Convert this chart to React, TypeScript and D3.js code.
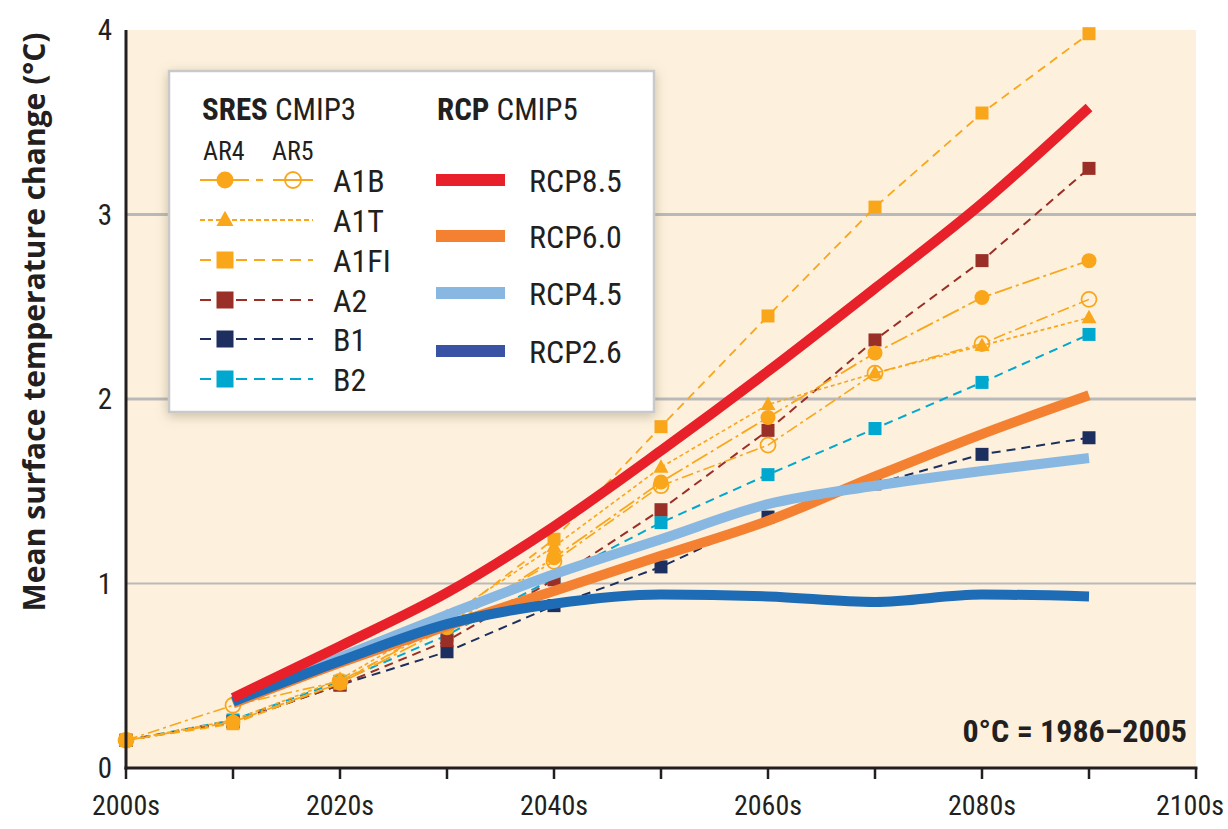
import React from "react";
import * as d3 from "d3";

const sresDecades = [2000, 2010, 2020, 2030, 2040, 2050, 2060, 2070, 2080, 2090];
const rcpDecades = [2010, 2020, 2030, 2040, 2050, 2060, 2070, 2080, 2090];

const a1bAR4 = [0.15, 0.25, 0.46, 0.76, 1.14, 1.55, 1.9, 2.25, 2.55, 2.75];
const a1bAR5 = [0.15, 0.34, 0.47, 0.78, 1.12, 1.53, 1.75, 2.14, 2.3, 2.54];
const a1t = [0.15, 0.26, 0.48, 0.82, 1.2, 1.63, 1.97, 2.14, 2.29, 2.44];
const a1fi = [0.15, 0.24, 0.46, 0.8, 1.24, 1.85, 2.45, 3.04, 3.55, 3.98];
const a2 = [0.15, 0.25, 0.45, 0.69, 1.02, 1.4, 1.83, 2.32, 2.75, 3.25];
const b1 = [0.15, 0.25, 0.45, 0.63, 0.88, 1.09, 1.36, 1.54, 1.7, 1.79];
const b2 = [0.15, 0.26, 0.47, 0.72, 1.03, 1.33, 1.59, 1.84, 2.09, 2.35];

const rcp85 = [0.38, 0.66, 0.95, 1.31, 1.72, 2.15, 2.6, 3.06, 3.58];
const rcp60 = [0.35, 0.57, 0.77, 0.96, 1.15, 1.34, 1.58, 1.81, 2.02];
const rcp45 = [0.36, 0.6, 0.83, 1.05, 1.24, 1.43, 1.53, 1.61, 1.68];
const rcp26 = [0.36, 0.58, 0.78, 0.89, 0.94, 0.93, 0.9, 0.94, 0.93];

const yTicks = [0, 1, 2, 3, 4];
const xTickYears = [2000, 2010, 2020, 2030, 2040, 2050, 2060, 2070, 2080, 2090, 2100];
const xLabelYears = [2000, 2020, 2040, 2060, 2080, 2100];
const xLabels = ["2000s", "2020s", "2040s", "2060s", "2080s", "2100s"];

const sresLabels = ["A1B", "A1T", "A1FI", "A2", "B1", "B2"];
const rcpLabels = ["RCP8.5", "RCP6.0", "RCP4.5", "RCP2.6"];

const YELLOW = "#f9a61a";
const A2C = "#9a2f27";
const B1C = "#1c2f5e";
const B2C = "#00a8cf";
const RED = "#e8202a";
const ORANGE = "#f48132";
const LBLUE = "#88b8e2";
const DBLUE = "#1e6bb6";
const DBLUE_LEG = "#3a52a4";

const FONT = "'Liberation Sans Narrow', 'Arial Narrow', 'Roboto Condensed', sans-serif";

type Marker = "circle" | "open" | "tri" | "square";

function MarkerShape({ kind, x, y, color, size }: { kind: Marker; x: number; y: number; color: string; size: number }) {
  if (kind === "circle") return <circle cx={x} cy={y} r={size / 2} fill={color} />;
  if (kind === "open") return <circle cx={x} cy={y} r={size / 2} fill="none" stroke={color} strokeWidth={1.8} />;
  if (kind === "tri") {
    const h = size * 0.9;
    return <path d={`M${x},${y - h * 0.6} L${x + size / 2},${y + h * 0.4} L${x - size / 2},${y + h * 0.4} Z`} fill={color} />;
  }
  return <rect x={x - size / 2} y={y - size / 2} width={size} height={size} fill={color} />;
}

export default function App() {
  const W = 1228;
  const H = 829;
  const x = d3.scaleLinear().domain([2000, 2100]).range([126, 1196]);
  const y = d3.scaleLinear().domain([0, 4]).range([768, 30]);

  const straight = d3
    .line<[number, number]>()
    .x((d) => x(d[0]))
    .y((d) => y(d[1]));
  const smooth = d3
    .line<[number, number]>()
    .x((d) => x(d[0]))
    .y((d) => y(d[1]))
    .curve(d3.curveMonotoneX);

  const zipS = (v: number[]) => sresDecades.map((d, i) => [d, v[i]] as [number, number]);
  const zipR = (v: number[]) => rcpDecades.map((d, i) => [d, v[i]] as [number, number]);

  const sres = [
    { v: b1, color: B1C, dash: "9,6", marker: "square" as Marker, w: 2 },
    { v: b2, color: B2C, dash: "9,6", marker: "square" as Marker, w: 2 },
    { v: a2, color: A2C, dash: "9,6", marker: "square" as Marker, w: 2 },
    { v: a1t, color: YELLOW, dash: "4,3", marker: "tri" as Marker, w: 1.6 },
    { v: a1bAR5, color: YELLOW, dash: "12,4,3,4", marker: "open" as Marker, w: 1.6 },
    { v: a1bAR4, color: YELLOW, dash: "18,4,3,4", marker: "circle" as Marker, w: 1.8 },
    { v: a1fi, color: YELLOW, dash: "9,6", marker: "square" as Marker, w: 1.8 },
  ];

  const rcps = [
    { v: rcp60, color: ORANGE },
    { v: rcp45, color: LBLUE },
    { v: rcp26, color: DBLUE },
    { v: rcp85, color: RED },
  ];

  const markerSize = (m: Marker) => (m === "square" ? 13 : 15);

  const lx = 169, ly = 71, lw = 485, lh = 341;
  const rowY = [180, 220, 260, 300, 339, 379];
  const rcpRowY = [180, 236, 293, 351];
  const legendSres = [
    { color: YELLOW, marker: "circle" as Marker, dash: "none" },
    { color: YELLOW, marker: "tri" as Marker, dash: "5,3" },
    { color: YELLOW, marker: "square" as Marker, dash: "11,7" },
    { color: A2C, marker: "square" as Marker, dash: "11,7" },
    { color: B1C, marker: "square" as Marker, dash: "11,7" },
    { color: B2C, marker: "square" as Marker, dash: "11,7" },
  ];
  const legendRcpColors = [RED, ORANGE, LBLUE, DBLUE_LEG];

  return (
    <svg width={W} height={H} style={{ display: "block", position: "absolute", left: 0, top: 0 }} fontFamily={FONT}>
      <defs>
        <filter id="shadow" x="-10%" y="-10%" width="120%" height="125%">
          <feDropShadow dx="0" dy="3" stdDeviation="6" floodColor="#8a7a60" floodOpacity="0.45" />
        </filter>
      </defs>
      <rect x={0} y={0} width={W} height={H} fill="#ffffff" />
      <rect x={x(2000)} y={y(4)} width={x(2100) - x(2000)} height={y(0) - y(4)} fill="#fdf1dd" />

      {[1, 2, 3].map((t) => (
        <line key={t} x1={x(2000)} x2={x(2100)} y1={y(t)} y2={y(t)} stroke="#b9b9b9" strokeWidth={t === 1 ? 1.8 : 3} />
      ))}

      {sres.map((s, i) => (
        <path key={"sl" + i} d={straight(zipS(s.v)) || ""} fill="none" stroke={s.color} strokeWidth={s.w} strokeDasharray={s.dash} />
      ))}
      {sres.map((s, i) => (
        <g key={"sm" + i}>
          {zipS(s.v).map((p, j) => (
            <MarkerShape key={j} kind={s.marker} x={x(p[0])} y={y(p[1])} color={s.color} size={markerSize(s.marker)} />
          ))}
        </g>
      ))}

      {rcps.map((r, i) => (
        <path key={"r" + i} d={smooth(zipR(r.v)) || ""} fill="none" stroke={r.color} strokeWidth={10} strokeLinecap="butt" strokeLinejoin="round" />
      ))}

      <line x1={x(2000)} x2={x(2000)} y1={y(4)} y2={y(0) + 1.5} stroke="#231f20" strokeWidth={3} />
      <line x1={x(2000) - 1.5} x2={x(2100) + 1.5} y1={y(0)} y2={y(0)} stroke="#231f20" strokeWidth={3} />
      {xTickYears.map((t) => (
        <line key={t} x1={x(t)} x2={x(t)} y1={y(0)} y2={y(0) + 11} stroke="#231f20" strokeWidth={2.5} />
      ))}
      {xLabelYears.map((t, i) => (
        <text
          key={t}
          x={i === xLabelYears.length - 1 ? 1224 : x(t)}
          y={815}
          textAnchor={i === xLabelYears.length - 1 ? "end" : "middle"}
          fontSize={28}
          fill="#231f20"
        >
          {xLabels[i]}
        </text>
      ))}
      {yTicks.map((t) => (
        <text key={t} x={112} y={y(t)} dy="0.36em" textAnchor="end" fontSize={29} fill="#231f20">
          {t}
        </text>
      ))}
      <text
        transform={`translate(45, 322) rotate(-90)`}
        textAnchor="middle"
        fontSize={30}
        fontWeight="bold"
        fontFamily="'Open Sans', 'Liberation Sans', sans-serif"
        fill="#231f20"
      >
        Mean surface temperature change (°C)
      </text>

      <text x={1187} y={742} textAnchor="end" fontSize={32} fontWeight="bold" fill="#231f20">
        0°C = 1986–2005
      </text>

      <rect x={lx} y={ly} width={lw} height={lh} fill="#ffffff" stroke="#c9c9c9" strokeWidth={2.5} filter="url(#shadow)" />
      <text x={202} y={120} fontSize={31} fill="#231f20">
        <tspan fontWeight="bold">SRES</tspan> CMIP3
      </text>
      <text x={437} y={120} fontSize={31} fill="#231f20">
        <tspan fontWeight="bold">RCP</tspan> CMIP5
      </text>
      <text x={203} y={160} fontSize={26} fill="#231f20">AR4</text>
      <text x={272} y={160} fontSize={26} fill="#231f20">AR5</text>

      {legendSres.map((s, i) => {
        const yy = rowY[i];
        return (
          <g key={"ls" + i}>
            {i === 0 ? (
              <g>
                <line x1={200} x2={249} y1={yy} y2={yy} stroke={s.color} strokeWidth={2.2} />
                <line x1={256} x2={263} y1={yy} y2={yy} stroke={s.color} strokeWidth={2.2} />
                <line x1={273} x2={313} y1={yy} y2={yy} stroke={s.color} strokeWidth={2.2} />
                <MarkerShape kind="circle" x={225} y={yy} color={s.color} size={17} />
                <MarkerShape kind="open" x={293} y={yy} color={s.color} size={16} />
              </g>
            ) : (
              <g>
                <line x1={200} x2={313} y1={yy} y2={yy} stroke={s.color} strokeWidth={2.2} strokeDasharray={s.dash} />
                <MarkerShape kind={s.marker} x={225} y={yy} color={s.color} size={17} />
              </g>
            )}
            <text x={333} y={yy} dy="0.36em" fontSize={32} fill="#231f20">
              {sresLabels[i]}
            </text>
          </g>
        );
      })}
      {rcpLabels.map((lab, i) => (
        <g key={"lr" + i}>
          <line x1={436} x2={505} y1={rcpRowY[i]} y2={rcpRowY[i]} stroke={legendRcpColors[i]} strokeWidth={12} />
          <text x={529} y={rcpRowY[i]} dy="0.36em" fontSize={32} fill="#231f20">
            {lab}
          </text>
        </g>
      ))}
    </svg>
  );
}
